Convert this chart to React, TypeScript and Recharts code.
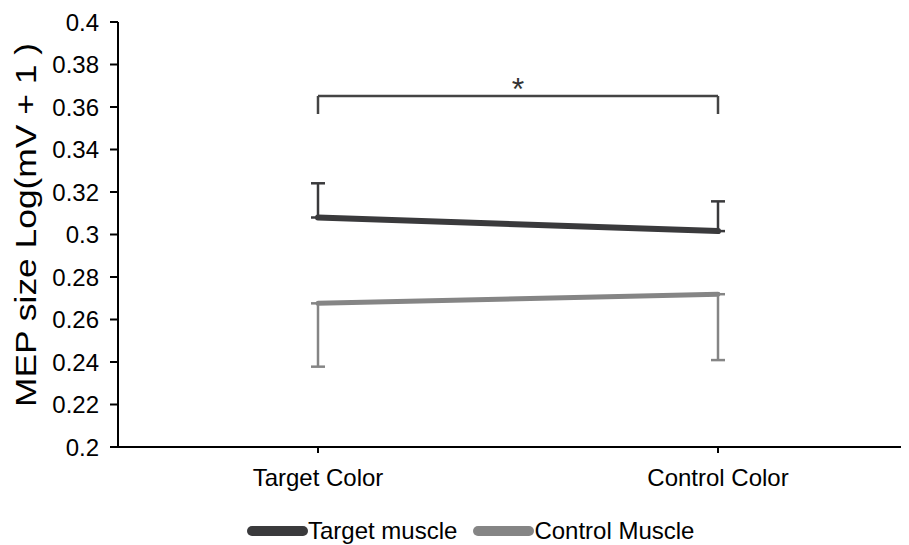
import React from "react";
import {
    LineChart,
    Line,
    XAxis,
    YAxis,
    ErrorBar,
    ReferenceLine,
    Legend,
} from "recharts";

// values
const categories = ["Target Color", "Control Color"];
const targetMuscle = [0.308, 0.3016];
const targetMuscleErrUp = [0.0161, 0.014];
const controlMuscle = [0.2676, 0.2719];
const controlMuscleErrDown = [0.0298, 0.031];
const yTicks = [0.2, 0.22, 0.24, 0.26, 0.28, 0.3, 0.32, 0.34, 0.36, 0.38, 0.4];
const bracketTop = 0.3652;
const bracketBottom = 0.3567;

const data = categories.map((name, i) => ({
    name,
    target: targetMuscle[i],
    targetErr: [0, targetMuscleErrUp[i]],
    control: controlMuscle[i],
    controlErr: [controlMuscleErrDown[i], 0],
}));

const FONT = '"Liberation Sans", Arial, sans-serif';
const DARK = "#3a3a3c";
const GRAY = "#858585";

const legendItems = [
    { label: "Target muscle", color: DARK },
    { label: "Control Muscle", color: GRAY },
];

function LegendContent() {
    return (
        <div style={{ display: "flex", alignItems: "center", height: 28, paddingLeft: 239, fontFamily: FONT, fontSize: 24, color: "#000" }}>
            {legendItems.map((it) => (
                <div key={it.label} style={{ display: "flex", alignItems: "center", marginRight: 16 }}>
                    <div style={{ width: 61, height: 10, borderRadius: 5, background: it.color }} />
                    <span>{it.label}</span>
                </div>
            ))}
        </div>
    );
}

export default function App() {
    return (
        <div style={{ width: 901, height: 537 }}>
            <LineChart
                width={901}
                height={537}
                data={data}
                margin={{ top: 14, right: 0, bottom: 0, left: 0 }}
            >
                <XAxis
                    dataKey="name"
                    padding={{ left: 200, right: 191 }}
                    height={70}
                    stroke="#000"
                    strokeWidth={2}
                    tickSize={6}
                    tickMargin={16}
                    tick={{ fill: "#000", fontSize: 24, fontFamily: FONT }}
                />
                <YAxis
                    domain={[0.2, 0.4]}
                    ticks={yTicks}
                    width={110}
                    interval={0}
                    stroke="#000"
                    strokeWidth={2}
                    tickSize={8}
                    tickMargin={11}
                    tickFormatter={(v: number) => String(Number(v.toFixed(2)))}
                    tick={{ fill: "#000", fontSize: 24, fontFamily: FONT }}
                    label={{
                        content: () => (
                            <text
                                x={28}
                                y={217}
                                transform="rotate(-90, 28, 217)"
                                textAnchor="middle"
                                fontSize={30}
                                fontFamily={FONT}
                                fill="#000"
                                textLength={364}
                                lengthAdjust="spacingAndGlyphs"
                            >
                                MEP size Log(mV + 1 )
                            </text>
                        ),
                    }}
                />
                <Legend verticalAlign="bottom" wrapperStyle={{ left: 0, width: 901 }} content={() => <LegendContent />} />
                <ReferenceLine
                    segment={[{ x: categories[0], y: bracketTop }, { x: categories[1], y: bracketTop }]}
                    stroke="#444"
                    strokeWidth={2.5}
                    label={{ value: "*", position: "top", fontSize: 32, fill: "#333", fontFamily: FONT, offset: -4 }}
                />
                <ReferenceLine
                    segment={[{ x: categories[0], y: bracketTop }, { x: categories[0], y: bracketBottom }]}
                    stroke="#444"
                    strokeWidth={2.5}
                />
                <ReferenceLine
                    segment={[{ x: categories[1], y: bracketTop }, { x: categories[1], y: bracketBottom }]}
                    stroke="#444"
                    strokeWidth={2.5}
                />
                <Line
                    type="linear"
                    dataKey="control"
                    name="Control Muscle"
                    stroke={GRAY}
                    strokeWidth={5}
                    strokeLinecap="round"
                    dot={false}
                    isAnimationActive={false}
                >
                    <ErrorBar dataKey="controlErr" width={7} stroke={GRAY} strokeWidth={2.5} />
                </Line>
                <Line
                    type="linear"
                    dataKey="target"
                    name="Target muscle"
                    stroke={DARK}
                    strokeWidth={6}
                    strokeLinecap="round"
                    dot={false}
                    isAnimationActive={false}
                >
                    <ErrorBar dataKey="targetErr" width={7} stroke={DARK} strokeWidth={2.5} />
                </Line>
            </LineChart>
        </div>
    );
}
